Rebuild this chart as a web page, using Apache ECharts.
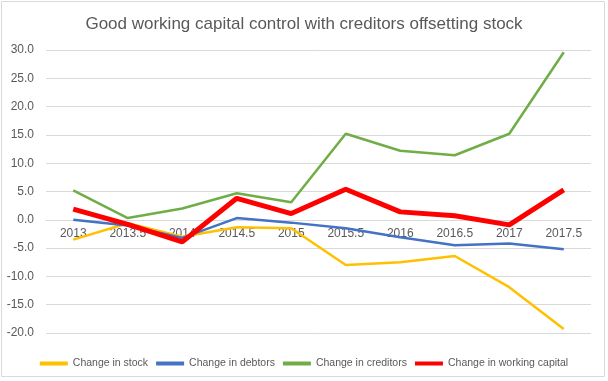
<!DOCTYPE html>
<html><head><meta charset="utf-8">
<script src="https://cdn.jsdelivr.net/npm/echarts@6/dist/echarts.min.js"></script>
<style>html,body{margin:0;padding:0;background:#fff}#c{width:608px;height:381px}</style>
</head><body><div id="c"></div>
<script>
const categories = ['2013','2013.5','2014','2014.5','2015','2015.5','2016','2016.5','2017','2017.5'];
const stock = [-3.5,-0.6,-3.0,-1.3,-1.5,-8.0,-7.5,-6.4,-11.9,-19.3];
const debtors = [0.0,-1.0,-3.2,0.3,-0.5,-1.5,-3.1,-4.5,-4.2,-5.2];
const creditors = [5.2,0.3,2.0,4.7,3.1,15.2,12.2,11.4,15.2,29.6];
const workingCapital = [1.9,-0.8,-3.9,3.8,1.1,5.4,1.4,0.7,-0.9,5.3];
const yTicks = {min:-20,max:30,interval:5};

const chart = echarts.init(document.getElementById('c'));
const font = 'Liberation Sans, Arial, sans-serif';
const gridTop = 50, gridBottom = 48, H = 381;
const plotH = H - gridTop - gridBottom;
// shift x axis so it sits on the zero value of the y axis
const zeroOffset = -plotH * (0 - yTicks.min) / (yTicks.max - yTicks.min);
function s(name,data,color,w,z){return {name,type:'line',data,symbol:'none',z,lineStyle:{color,width:w},itemStyle:{color},emphasis:{disabled:true}};}
chart.setOption({
  animation:false,
  graphic:[{type:'rect',z:-1,shape:{x:1.5,y:1.5,width:603,height:375},style:{fill:null,stroke:'#d9d9d9',lineWidth:1}}],
  title:{text:'Good working capital control with creditors offsetting stock',left:'center',top:11,textStyle:{fontFamily:font,fontSize:17,fontWeight:'normal',color:'#595959'}},
  grid:{left:46,right:17,top:gridTop,bottom:gridBottom},
  legend:{bottom:7,left:'center',itemWidth:28,itemHeight:4,itemGap:8,icon:'rect',textStyle:{fontFamily:font,fontSize:10.5,color:'#595959'},
    data:['Change in stock','Change in debtors','Change in creditors','Change in working capital']},
  xAxis:{type:'category',z:0,data:categories,boundaryGap:true,offset:zeroOffset,axisLine:{onZero:false,lineStyle:{color:'#d9d9d9'}},axisTick:{show:false},
    axisLabel:{fontFamily:font,fontSize:12,color:'#595959',margin:8}},
  yAxis:{type:'value',min:yTicks.min,max:yTicks.max,interval:yTicks.interval,axisLine:{show:false},axisTick:{show:false},
    splitLine:{lineStyle:{color:'#d9d9d9'}},axisLabel:{fontFamily:font,fontSize:12,color:'#595959',margin:12,formatter:v=>v.toFixed(1)}},
  series:[
    s('Change in stock',stock,'#FFC000',2.5,2),
    s('Change in debtors',debtors,'#4472C4',2.5,3),
    s('Change in creditors',creditors,'#70AD47',2.5,4),
    s('Change in working capital',workingCapital,'#FF0000',5,5)
  ]
});
</script></body></html>
